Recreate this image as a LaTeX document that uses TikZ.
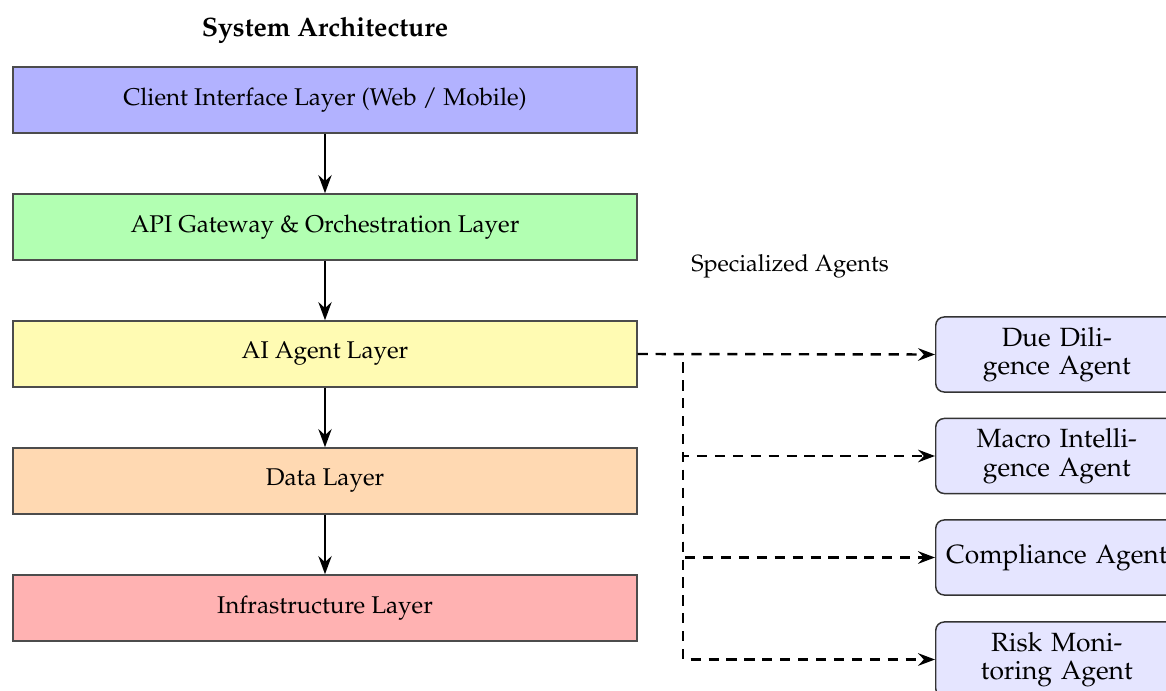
\documentclass[tikz,border=0pt]{standalone}
\usepackage[T1]{fontenc}
\usepackage{mathpazo}
\usetikzlibrary{arrows.meta}
\begin{document}
\begin{tikzpicture}[x=0.413pt,y=-0.413pt,
  layer/.style={draw=black!70, line width=0.6pt, minimum width=257.7pt,
    minimum height=27.3pt, inner sep=0pt, font=\fontsize{10}{12}\selectfont},
  agent/.style={draw=black!80, line width=0.6pt, fill=blue!10, rounded corners=3.5pt,
    text width=94pt, align=center, minimum height=31pt, inner sep=3pt,
    anchor=west, font=\fontsize{10.9}{11.8}\selectfont},
  flow/.style={-{Stealth[length=7.5pt,width=5.5pt,inset=2.5pt]}, line width=0.8pt},
  link/.style={-{Stealth[length=7pt,width=5.2pt,inset=2.4pt]}, line width=1pt,
    dash pattern=on 4.2pt off 3.2pt}]
\useasboundingbox (0,0) rectangle (1166,691);

% title and group caption
\node[font=\fontsize{11}{13}\selectfont\bfseries] (title) at (325,30) {System Architecture};
\node[font=\fontsize{9.7}{12}\selectfont] (caption) at (790,266) {Specialized Agents};

% layered stack
\node[layer, fill=blue!30]   (client) at (325,100) {Client Interface Layer (Web / Mobile)};
\node[layer, fill=green!30]  (api)    at (325,227) {API Gateway \& Orchestration Layer};
\node[layer, fill=yellow!30] (ai)     at (325,354) {AI Agent Layer};
\node[layer, fill=orange!30] (data)   at (325,481) {Data Layer};
\node[layer, fill=red!30]    (infra)  at (325,608) {Infrastructure Layer};

\draw[flow] (client) -- (api);
\draw[flow] (api) -- (ai);
\draw[flow] (ai) -- (data);
\draw[flow] (data) -- (infra);

% specialized agents
\node[agent] (due)   at (935,354.5) {Due Dili-\\gence Agent};
\node[agent] (macro) at (935,456)   {Macro Intelli-\\gence Agent};
\node[agent] (comp)  at (935,557.5) {\mbox{Compliance Agent}};
\node[agent] (risk)  at (935,659.5) {Risk Moni-\\toring Agent};

\coordinate (split) at (683,354);
\draw[link] (ai.east) -- (due.west);
\draw[link] (ai.east) -- (split) |- (macro.west);
\draw[link] (ai.east) -- (split) |- (comp.west);
\draw[link] (ai.east) -- (split) |- (risk.west);
\end{tikzpicture}
\end{document}
